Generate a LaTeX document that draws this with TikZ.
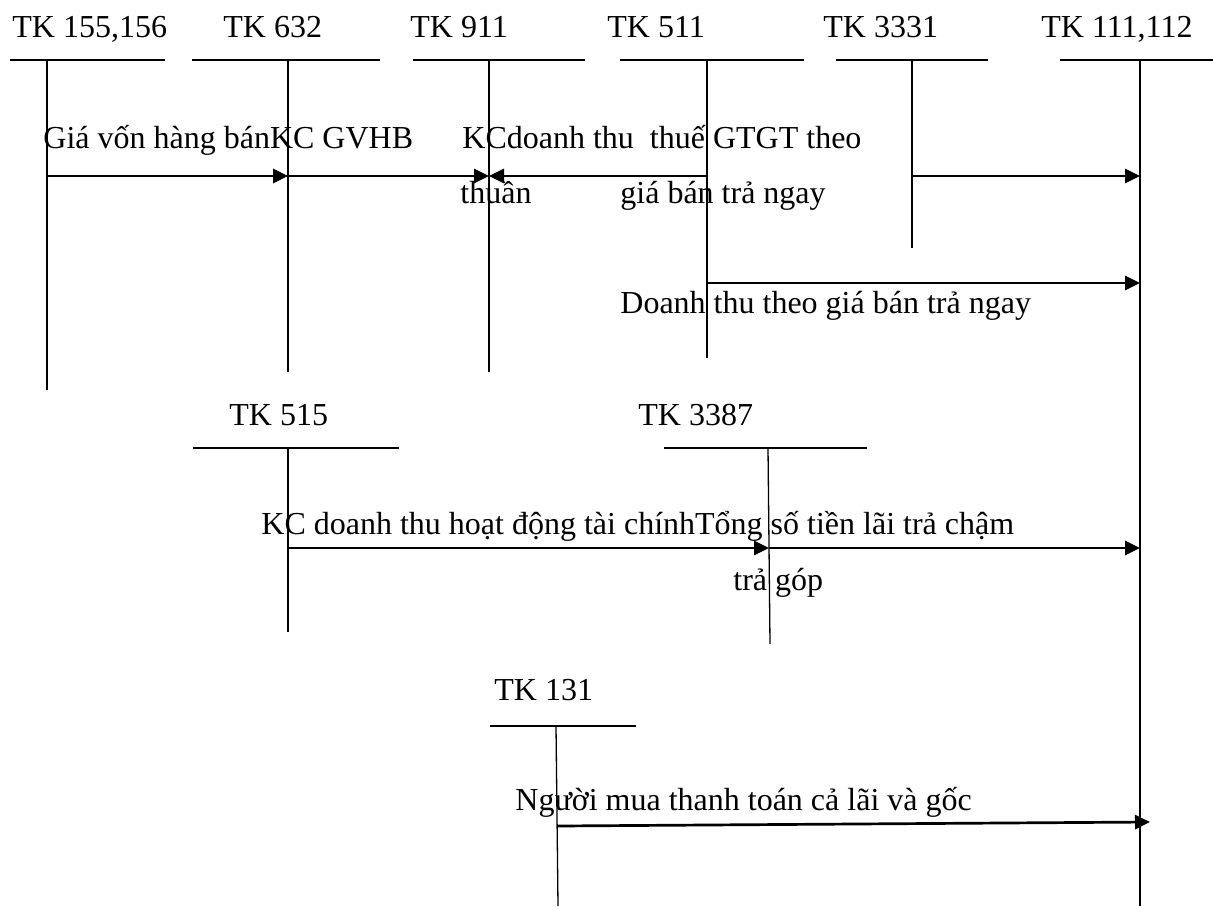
\documentclass[tikz,border=0pt]{standalone}
\usepackage{fontspec}
\setmainfont{Liberation Serif}
\usetikzlibrary{arrows.meta}
\begin{document}
\begin{tikzpicture}[x=0.5pt,y=-0.5pt,
  lbl/.style={anchor=base west,inner sep=0pt,font=\fontsize{16}{19}\selectfont},
  tline/.style={line width=1pt},
  vline/.style={line width=0.65pt},
  flow/.style={line width=1.35pt,-{Triangle[length=7.5pt,width=7pt]}},
]
\useasboundingbox (0,0) rectangle (1213,906);

% ---- headings
\node[lbl] (h1) at (12,37) {TK 155,156};
\node[lbl] (h2) at (223,37) {TK 632};
\node[lbl] (h3) at (410,37) {TK 911};
\node[lbl] (h4) at (607,37) {TK 511};
\node[lbl] (h5) at (823,37) {TK 3331};
\node[lbl] (h6) at (1041,37) {TK 111,112};
\node[lbl] (h7) at (229,425) {TK 515};
\node[lbl] (h8) at (638,425) {TK 3387};
\node[lbl] (h9) at (494,700) {TK 131};

% ---- T-account horizontal bars
\draw[tline] (10,60) -- (165,60);
\draw[tline] (192,60) -- (380,60);
\draw[tline] (413,60) -- (585,60);
\draw[tline] (620,60) -- (804,60);
\draw[tline] (836,60) -- (988,60);
\draw[tline] (1060,60) -- (1213,60);
\draw[tline] (193,448) -- (399,448);
\draw[tline] (664,448) -- (867,448);
\draw[tline] (490,726) -- (636,726);

% ---- verticals
\coordinate (v1t) at (47,60);   \coordinate (v1b) at (47,390);
\coordinate (v2t) at (288,60);  \coordinate (v2b) at (288,372);
\coordinate (v3t) at (489,60);  \coordinate (v3b) at (489,372);
\coordinate (v4t) at (707,60);  \coordinate (v4b) at (707,358);
\coordinate (v5t) at (912,60);  \coordinate (v5b) at (912,248);
\coordinate (v6t) at (1140,60); \coordinate (v6b) at (1140,906);
\coordinate (v7t) at (288,448); \coordinate (v7b) at (288,632);
\coordinate (v8t) at (768,448); \coordinate (v8b) at (770,644);
\coordinate (v9t) at (556,726); \coordinate (v9b) at (558,906);
\foreach \i in {1,...,9} {\draw[vline] (v\i t) -- (v\i b);}

% ---- arrow end points
\coordinate (p1) at (47,176);
\coordinate (p2) at (288,176);
\coordinate (p3) at (489,176);
\coordinate (p4) at (707,176);
\coordinate (p5) at (912,176);
\coordinate (p6) at (1140,176);
\coordinate (q4) at (707,283);
\coordinate (q6) at (1140,283);
\coordinate (r7) at (288,548);
\coordinate (r8) at (769,548);
\coordinate (r6) at (1140,548);
\coordinate (s9) at (557,826);
\coordinate (s6) at (1150,822);

\draw[flow] (p1) -- (p2);
\draw[flow] (p2) -- (p3);
\draw[flow] (p4) -- (p3);
\draw[flow] (p5) -- (p6);
\draw[flow] (q4) -- (q6);
\draw[flow] (r7) -- (r8);
\draw[flow] (r8) -- (r6);
\draw[flow] (s9) -- (s6);

% ---- labels
\node[lbl] (l1) at (43,148) {Giá vốn hàng bánKC GVHB};
\node[lbl] (l2) at (462,148) {KCdoanh thu\ \ thuế GTGT theo};
\node[lbl] (l3) at (460,203) {thuần};
\node[lbl] (l4) at (620,203) {giá bán trả ngay};
\node[lbl] (l5) at (620,313) {Doanh thu theo giá bán trả ngay};
\node[lbl] (l6) at (261,534) {KC doanh thu hoạt động tài chínhTổng số tiền lãi trả chậm};
\node[lbl] (l7) at (733,590) {trả góp};
\node[lbl] (l8) at (515,810) {Người mua thanh toán cả lãi và gốc};
\end{tikzpicture}
\end{document}
